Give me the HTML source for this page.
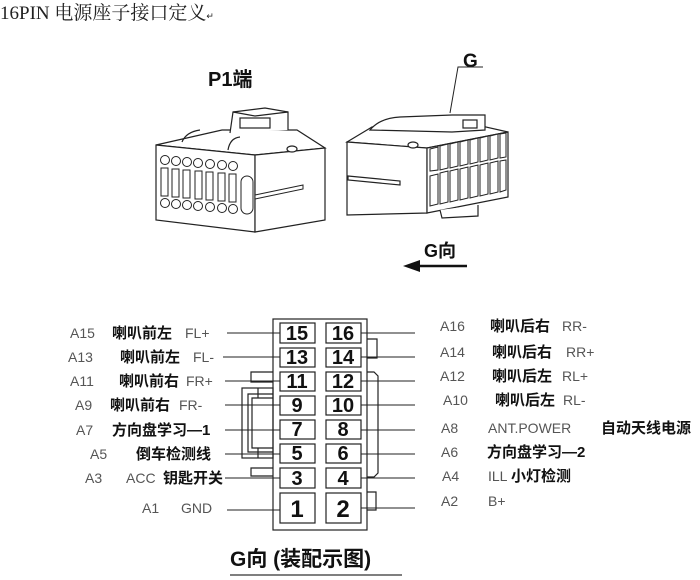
<!DOCTYPE html>
<html><head><meta charset="utf-8">
<style>
html,body{margin:0;padding:0;background:#fff;width:700px;height:580px;overflow:hidden}
svg{display:block}
.code{font-family:"Liberation Sans","Noto Sans CJK SC",sans-serif;font-size:14px;fill:#555}
.cn{font-family:"Liberation Sans","Noto Sans CJK SC",sans-serif;font-size:15px;font-weight:bold;fill:#111}
.num{font-family:"Liberation Sans Narrow","Liberation Sans",sans-serif;font-size:20px;font-weight:bold;fill:#111;text-anchor:middle}
</style></head><body>
<svg width="700" height="580" viewBox="0 0 700 580" xmlns="http://www.w3.org/2000/svg">
<text x="0" y="19" font-family="Liberation Serif,'Noto Serif CJK SC',serif" font-size="19" fill="#222">16PIN 电源座子接口定义<tspan font-size="9">↵</tspan></text>

<text x="208" y="86" font-family="Liberation Sans,'Noto Sans CJK SC',sans-serif" font-size="20" font-weight="bold" fill="#111">P1端</text>

<!-- Left connector -->
<g fill="#fff" stroke="#222" stroke-width="1.2">
<polygon points="156,145 222,130 297,130 325,148 255,155"/>
<polygon points="156,145 255,155 255,232 156,220"/>
<polygon points="255,155 325,148 325,220 255,232"/>
<path d="M182,142 Q186,132 200,130 M240,137 Q230,138 228,150" fill="none"/>
<path d="M230,133 L233,112 L288,112 L288,130"/>
<polygon points="233,112 265,108 288,112 255,116"/>
<rect x="240" y="118" width="30" height="10"/>
<ellipse cx="292" cy="149" rx="5" ry="3"/>
</g>
<g fill="#fff" stroke="#222" stroke-width="1">
<circle cx="165" cy="160" r="4.5"/><circle cx="176" cy="161" r="4.5"/><circle cx="187" cy="162" r="4.5"/><circle cx="198" cy="163" r="4.5"/><circle cx="210" cy="164" r="4.5"/><circle cx="222" cy="165" r="4.5"/><circle cx="233" cy="166" r="4.5"/>
<circle cx="165" cy="203" r="4.5"/><circle cx="176" cy="204" r="4.5"/><circle cx="187" cy="205" r="4.5"/><circle cx="198" cy="206" r="4.5"/><circle cx="210" cy="207" r="4.5"/><circle cx="222" cy="208" r="4.5"/><circle cx="233" cy="209" r="4.5"/>
<rect x="161" y="168" width="7" height="28"/><rect x="172" y="169" width="7" height="28"/><rect x="183" y="170" width="7" height="28"/><rect x="195" y="171" width="7" height="28"/><rect x="206" y="172" width="7" height="28"/><rect x="218" y="173" width="7" height="28"/><rect x="229" y="174" width="7" height="28"/>
<rect x="241" y="176" width="12" height="38" rx="6"/>
<polygon points="255,195 303,185 303,189 255,199"/>
</g>

<!-- Right connector -->
<g fill="#fff" stroke="#222" stroke-width="1.2">
<polygon points="347,142 372,127 455,120 508,132 427,148"/>
<polygon points="347,142 427,148 427,213 347,215"/>
<polygon points="427,148 508,132 508,197 427,213"/>
<path d="M370,130 Q380,118 400,117 L452,115 L485,115 L485,130 L452,132 Z"/>
<rect x="463" y="120" width="14" height="8"/>
<ellipse cx="413" cy="145" rx="5" ry="3"/>
<polygon points="348,176 400,181 400,185 348,180"/>
<path d="M440,210 L442,218 L478,216 L478,205"/>
</g>
<g fill="#fff" stroke="#222" stroke-width="1">
<polygon points="430,149 438,147 438,170 430,171"/><polygon points="440,146 448,144 448,168 440,170"/><polygon points="450,144 458,142 458,166 450,168"/><polygon points="460,142 468,140 468,164 460,166"/><polygon points="470,140 478,138 478,162 470,164"/><polygon points="480,138 488,136 488,160 480,162"/><polygon points="490,136 498,134 498,158 490,160"/><polygon points="500,134 506,133 506,157 500,158"/>
<polygon points="430,176 438,174 438,204 430,206"/><polygon points="440,173 448,171 448,202 440,204"/><polygon points="450,171 458,169 458,200 450,202"/><polygon points="460,169 468,167 468,198 460,200"/><polygon points="470,167 478,165 478,196 470,198"/><polygon points="480,165 488,163 488,194 480,196"/><polygon points="490,163 498,161 498,192 490,194"/><polygon points="500,161 506,160 506,190 500,192"/>
</g>
<text x="463" y="67" font-family="Liberation Sans,sans-serif" font-size="19" font-weight="bold" fill="#111">G</text>
<polyline points="483,67 458,67 450,113" fill="none" stroke="#222" stroke-width="1"/>

<text x="424" y="257" font-family="Liberation Sans,'Noto Sans CJK SC',sans-serif" font-size="18" font-weight="bold" fill="#111">G向</text>
<line x1="412" y1="266" x2="467" y2="266" stroke="#111" stroke-width="2.5"/>
<polygon points="403,266 420,260 420,272" fill="#111"/>

<!-- Pin block -->
<g fill="none" stroke="#222" stroke-width="1.2">
<rect x="273" y="319" width="94" height="211"/>
<rect x="280" y="323" width="35" height="20"/><rect x="326" y="323" width="35" height="20"/>
<rect x="280" y="348" width="35" height="19"/><rect x="326" y="348" width="35" height="19"/>
<rect x="280" y="372" width="35" height="19"/><rect x="326" y="372" width="35" height="19"/>
<rect x="280" y="396" width="35" height="19"/><rect x="326" y="396" width="35" height="19"/>
<rect x="280" y="420" width="35" height="19"/><rect x="326" y="420" width="35" height="19"/>
<rect x="280" y="444" width="35" height="19"/><rect x="326" y="444" width="35" height="19"/>
<rect x="280" y="468" width="35" height="20"/><rect x="326" y="468" width="35" height="20"/>
<rect x="280" y="493" width="35" height="30"/><rect x="326" y="493" width="35" height="30"/>
<polyline points="273,372 251,372 251,382 273,382"/>
<polyline points="273,468 251,468 251,476 273,476"/>
<rect x="242" y="388" width="31" height="70"/>
<polyline points="273,394 248,394 248,452 273,452"/>
<polyline points="273,398 252,398 252,448 273,448"/>
<line x1="258" y1="388" x2="258" y2="398"/><line x1="258" y1="448" x2="258" y2="458"/>
<polyline points="367,339 377,339 377,358 367,358"/>
<polyline points="367,372 374,372 378,376 378,473 374,477 367,477"/>
<polyline points="367,492 376,492 376,510 367,510"/>
</g>
<g stroke="#222" stroke-width="1">
<line x1="227" y1="333" x2="280" y2="333"/><line x1="223" y1="357" x2="280" y2="357"/>
<line x1="225" y1="381" x2="280" y2="381"/><line x1="225" y1="405" x2="280" y2="405"/>
<line x1="225" y1="430" x2="280" y2="430"/><line x1="225" y1="454" x2="280" y2="454"/>
<line x1="225" y1="478" x2="280" y2="478"/><line x1="227" y1="510" x2="280" y2="510"/>
<line x1="361" y1="333" x2="415" y2="333"/><line x1="361" y1="357" x2="415" y2="357"/>
<line x1="361" y1="381" x2="415" y2="381"/><line x1="361" y1="405" x2="415" y2="405"/>
<line x1="361" y1="430" x2="415" y2="430"/><line x1="361" y1="454" x2="415" y2="454"/>
<line x1="361" y1="478" x2="415" y2="478"/><line x1="361" y1="508" x2="415" y2="508"/>
</g>
<g class="num">
<text x="297" y="340">15</text><text x="343" y="340">16</text>
<text x="297" y="364">13</text><text x="343" y="364">14</text>
<text x="297" y="388">11</text><text x="343" y="388">12</text>
<text x="297" y="412">9</text><text x="343" y="412">10</text>
<text x="297" y="436">7</text><text x="343" y="436">8</text>
<text x="297" y="460">5</text><text x="343" y="460">6</text>
<text x="297" y="485">3</text><text x="343" y="485">4</text>
<text x="297" y="517" font-size="24">1</text><text x="343" y="517" font-size="24">2</text>
</g>

<!-- Left labels -->
<text class="code" x="70" y="338">A15</text><text class="cn" x="112" y="338">喇叭前左</text><text class="code" x="185" y="338">FL+</text>
<text class="code" x="68" y="362">A13</text><text class="cn" x="120" y="362">喇叭前左</text><text class="code" x="193" y="362">FL-</text>
<text class="code" x="70" y="386">A11</text><text class="cn" x="119" y="386">喇叭前右</text><text class="code" x="186" y="386">FR+</text>
<text class="code" x="75" y="410">A9</text><text class="cn" x="110" y="410">喇叭前右</text><text class="code" x="179" y="410">FR-</text>
<text class="code" x="76" y="435">A7</text><text class="cn" x="112" y="435">方向盘学习—1</text>
<text class="code" x="90" y="459">A5</text><text class="cn" x="136" y="459">倒车检测线</text>
<text class="code" x="85" y="483">A3</text><text class="code" x="126" y="483">ACC</text><text class="cn" x="163" y="483">钥匙开关</text>
<text class="code" x="142" y="513">A1</text><text class="code" x="181" y="513">GND</text>

<!-- Right labels -->
<text class="code" x="440" y="331">A16</text><text class="cn" x="490" y="331">喇叭后右</text><text class="code" x="562" y="331">RR-</text>
<text class="code" x="440" y="357">A14</text><text class="cn" x="492" y="357">喇叭后右</text><text class="code" x="566" y="357">RR+</text>
<text class="code" x="440" y="381">A12</text><text class="cn" x="492" y="381">喇叭后左</text><text class="code" x="562" y="381">RL+</text>
<text class="code" x="443" y="405">A10</text><text class="cn" x="495" y="405">喇叭后左</text><text class="code" x="563" y="405">RL-</text>
<text class="code" x="441" y="433">A8</text><text class="code" x="488" y="433">ANT.POWER</text><text class="cn" x="601" y="433">自动天线电源</text>
<text class="code" x="441" y="457">A6</text><text class="cn" x="487" y="457">方向盘学习—2</text>
<text class="code" x="442" y="481">A4</text><text class="code" x="488" y="481">ILL</text><text class="cn" x="511" y="481">小灯检测</text>
<text class="code" x="441" y="506">A2</text><text class="code" x="488" y="506">B+</text>

<text x="230" y="566" font-family="Liberation Sans,'Noto Sans CJK SC',sans-serif" font-size="21" font-weight="bold" fill="#111">G向 (装配示图)</text>
<line x1="230" y1="575" x2="402" y2="575" stroke="#555" stroke-width="1.5"/>
</svg>
</body></html>
